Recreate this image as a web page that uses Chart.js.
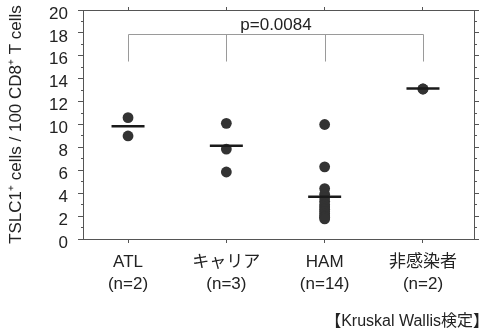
<!DOCTYPE html>
<html><head><meta charset="utf-8">
<script src="https://cdn.jsdelivr.net/npm/chart.js@4/dist/chart.umd.min.js"></script>
<style>html,body{margin:0;padding:0;background:#fff;}#wrap{width:493px;height:334px;}</style>
</head><body><div id="wrap"><canvas id="c" width="493" height="334"></canvas></div>
<script>
// ---- data ----
const categories = ['ATL', 'キャリア', 'HAM', '非感染者'];
const groupSizes = ['(n=2)', '(n=3)', '(n=14)', '(n=2)'];
const atlValues = [10.6, 9.0];
const carrierValues = [10.1, 7.85, 5.85];
const hamValues = [10.0, 6.3, 4.4, 3.9, 3.6, 3.3, 3.0, 2.8, 2.6, 2.4, 2.2, 2.0, 1.9, 1.75];
const uninfectedValues = [13.1, 13.1];
const groupMeans = [9.85, 8.15, 3.7, 13.15];
const yTickLabels = [0, 2, 4, 6, 8, 10, 12, 14, 16, 18, 20];
const yTitle = 'TSLC1⁺ cells / 100 CD8⁺ T cells';
const pValueLabel = 'p=0.0084';
const bracketTop = 17.9;
const bracketBottom = 15.5;
const footerLabel = '【Kruskal Wallis検定】';

// ---- build ----
const FONT = '"Liberation Sans", Arial, "Noto Sans CJK JP", sans-serif';
Chart.defaults.font.family = FONT;
Chart.defaults.color = '#222';

const groups = [atlValues, carrierValues, hamValues, uninfectedValues];
const pointData = [];
groups.forEach((arr, i) => arr.forEach(v => pointData.push({x: i, y: v})));
const meanData = groupMeans.map((m, i) => ({x: i, y: m}));

const AXIS = '#555';

const annot = {
  id: 'annot',
  afterDatasetsDraw(chart) {
    const {ctx, scales: {x, y}} = chart;
    ctx.save();
    ctx.strokeStyle = '#9a9a9a';
    ctx.lineWidth = 1;
    const yt = Math.round(y.getPixelForValue(bracketTop)) + 0.5;
    const yb = y.getPixelForValue(bracketBottom);
    ctx.beginPath();
    const x0 = Math.round(x.getPixelForValue(0)) + 0.5;
    const x3 = Math.round(x.getPixelForValue(categories.length - 1)) + 0.5;
    ctx.moveTo(x0, yt); ctx.lineTo(x3, yt);
    categories.forEach((c, i) => {
      const px = Math.round(x.getPixelForValue(i)) + 0.5;
      ctx.moveTo(px, yt); ctx.lineTo(px, yb);
    });
    ctx.stroke();
    ctx.fillStyle = '#222';
    ctx.font = '17px ' + FONT;
    ctx.textAlign = 'center';
    ctx.textBaseline = 'bottom';
    ctx.fillText(pValueLabel, (x0 + x3) / 2, yt - 1);
    ctx.restore();
  },
  afterDraw(chart) {
    const {ctx} = chart;
    ctx.save();
    ctx.fillStyle = '#222';
    ctx.font = '16px ' + FONT;
    ctx.textAlign = 'right';
    ctx.textBaseline = 'middle';
    ctx.fillText(footerLabel, chart.width - 4, 322);
    ctx.restore();
  }
};

const yMin = yTickLabels[0], yMax = yTickLabels[yTickLabels.length - 1];
const isMajor = v => yTickLabels.includes(v);
const noPad = s => { s.paddingTop = 0; s.paddingBottom = 0; s.paddingLeft = 0; s.paddingRight = 0; };

new Chart(document.getElementById('c'), {
  type: 'scatter',
  data: {
    datasets: [
      {
        data: meanData,
        pointStyle: 'line',
        pointRadius: 16.5,
        pointBorderWidth: 2.5,
        borderColor: '#1a1a1a',
        backgroundColor: '#1a1a1a',
        xAxisID: 'x', yAxisID: 'y'
      },
      {
        data: pointData,
        pointStyle: 'circle',
        pointRadius: 5.4,
        pointBorderWidth: 0,
        backgroundColor: '#333',
        borderColor: '#333',
        xAxisID: 'x', yAxisID: 'y'
      }
    ]
  },
  options: {
    responsive: false,
    animation: false,
    devicePixelRatio: 1,
    layout: {padding: 0, autoPadding: false},
    plugins: {legend: {display: false}, tooltip: {enabled: false}},
    scales: {
      x: {
        type: 'linear', position: 'bottom',
        min: -0.458, max: 3.519,
        afterBuildTicks: s => { s.ticks = categories.map((c, i) => ({value: i})); },
        afterFit: s => { s.height = 95; noPad(s); },
        ticks: {
          autoSkip: false, maxRotation: 0, padding: 8,
          font: {size: 17, lineHeight: 1.3},
          color: '#222',
          callback: v => [categories[v], groupSizes[v]]
        },
        grid: {drawOnChartArea: false, tickLength: 4, color: AXIS},
        border: {color: AXIS, width: 1}
      },
      x2: {
        type: 'linear', position: 'top',
        min: -0.458, max: 3.519,
        afterBuildTicks: s => { s.ticks = categories.map((c, i) => ({value: i})); },
        afterFit: s => { s.height = 10; noPad(s); },
        ticks: {display: false},
        grid: {drawOnChartArea: false, tickLength: 3, color: AXIS},
        border: {color: AXIS, width: 1}
      },
      y: {
        type: 'linear', position: 'left',
        min: yMin, max: yMax,
        afterFit: s => { s.width = 83; noPad(s); },
        ticks: {
          stepSize: 1, autoSkip: false, padding: 10, labelOffset: 4,
          font: {size: 17},
          color: '#222',
          callback: v => isMajor(v) ? String(v) : ''
        },
        grid: {
          drawOnChartArea: false, tickLength: 5, color: AXIS,
          tickBorderDash: ctx => (ctx.tick && !isMajor(ctx.tick.value)) ? [0, 3, 2, 100] : []
        },
        border: {color: AXIS, width: 1},
        title: {display: true, text: yTitle, font: {size: 17}, color: '#222', padding: {top: 6, bottom: 0}}
      },
      y2: {
        type: 'linear', position: 'right',
        min: yMin, max: yMax,
        afterFit: s => { s.width = 19; noPad(s); },
        ticks: {stepSize: 1, autoSkip: false, display: false},
        grid: {
          drawOnChartArea: false, tickLength: 5, color: AXIS,
          tickBorderDash: ctx => (ctx.tick && !isMajor(ctx.tick.value)) ? [2, 100] : []
        },
        border: {color: AXIS, width: 1}
      }
    }
  },
  plugins: [annot]
});
</script></body></html>
